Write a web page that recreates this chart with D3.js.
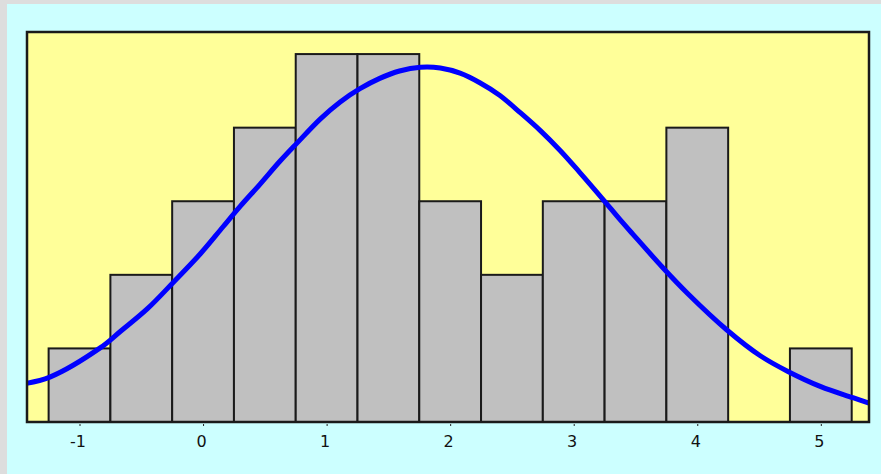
<!DOCTYPE html>
<html>
<head>
<meta charset="utf-8">
<script src="https://cdn.jsdelivr.net/npm/d3@7"></script>
<style>
  html, body { margin: 0; padding: 0; background: #dddddd; }
  #maViz { position: absolute; left: 7px; top: 4px; }
</style>
</head>
<body>
<div id="maViz"></div>
<script>
// histogramme : centres des classes (largeur 0.5) et effectifs
const binCenters = [-1, -0.5, 0, 0.5, 1, 1.5, 2, 2.5, 3, 3.5, 4, 4.5, 5];
const binCounts  = [1, 2, 3, 4, 5, 5, 3, 2, 3, 3, 4, 0, 1];
const binWidth = 0.5;

// courbe bleue, points
const curveX = [-1.45, -1.24, -0.83, -0.67, -0.45, -0.24, -0.02, 0.16, 0.30, 0.46, 0.62, 0.76,
                0.95, 1.11, 1.27, 1.43, 1.59, 1.76, 1.92, 2.08, 2.24, 2.40, 2.57, 2.73, 2.89,
                3.05, 3.24, 3.37, 3.48, 3.72, 3.92, 4.24, 4.51, 4.73, 5.00, 5.26, 5.42];
const curveY = [0.52, 0.61, 1.01, 1.23, 1.54, 1.90, 2.29, 2.65, 2.93, 3.23, 3.54, 3.79,
                4.12, 4.35, 4.53, 4.67, 4.77, 4.82, 4.81, 4.74, 4.61, 4.44, 4.20, 3.96, 3.69,
                3.39, 3.02, 2.76, 2.55, 2.10, 1.75, 1.25, 0.90, 0.69, 0.48, 0.33, 0.24];

const tickValues = [-1, 0, 1, 2, 3, 4, 5];

// dimensions
const W = 874, H = 470;
const plot = {left: 20, top: 28, right: 862, bottom: 418}; // relatif au svg (décalé de 7,4)

const svg = d3.select("#maViz")
  .append("svg")
    .attr("width", W)
    .attr("height", H);

svg.append("rect")
  .attr("width", W).attr("height", H)
  .attr("fill", "#ccffff");

const x = d3.scaleLinear()
  .domain([-1.425, 5.39])
  .range([plot.left, plot.right]);

const y = d3.scaleLinear()
  .domain([0, 5.3])
  .range([plot.bottom, plot.top]);

// fond jaune
svg.append("rect")
  .attr("x", plot.left).attr("y", plot.top)
  .attr("width", plot.right - plot.left)
  .attr("height", plot.bottom - plot.top)
  .attr("fill", "#ffff99");

svg.append("clipPath").attr("id", "clip")
  .append("rect")
  .attr("x", plot.left).attr("y", plot.top)
  .attr("width", plot.right - plot.left)
  .attr("height", plot.bottom - plot.top);

// barres
const bins = binCenters.map((c, i) => ({c: c, n: binCounts[i]})).filter(d => d.n > 0);

svg.append("g")
  .selectAll("rect")
  .data(bins)
  .join("rect")
    .attr("x", d => x(d.c - binWidth / 2))
    .attr("y", d => y(d.n))
    .attr("width", d => x(d.c + binWidth / 2) - x(d.c - binWidth / 2))
    .attr("height", d => y(0) - y(d.n))
    .attr("fill", "#c0c0c0")
    .attr("stroke", "#1a1a1a")
    .attr("stroke-width", 2);

// courbe
const line = d3.line()
  .x((d, i) => x(curveX[i]))
  .y(d => y(d))
  .curve(d3.curveCatmullRom.alpha(0.5));

svg.append("path")
  .datum(curveY)
  .attr("clip-path", "url(#clip)")
  .attr("d", line)
  .attr("fill", "none")
  .attr("stroke", "#0000ff")
  .attr("stroke-width", 5)
  .attr("stroke-linejoin", "round");

// cadre
svg.append("rect")
  .attr("x", plot.left).attr("y", plot.top)
  .attr("width", plot.right - plot.left)
  .attr("height", plot.bottom - plot.top)
  .attr("fill", "none")
  .attr("stroke", "#1a1a1a")
  .attr("stroke-width", 2.5);

// axe x
const axe = svg.append("g")
  .attr("transform", "translate(0," + (plot.bottom + 2) + ")")
  .call(d3.axisBottom(x)
    .tickValues(tickValues)
    .tickSize(2)
    .tickPadding(10)
    .tickFormat(d => String(d)));

axe.select(".domain").remove();
axe.selectAll("line").attr("stroke", "#222");
axe.selectAll("text")
  .attr("fill", "#111")
  .attr("dx", "-2")
  .style("font-family", "DejaVu Sans, sans-serif")
  .style("font-size", "16px");
</script>
</body>
</html>
